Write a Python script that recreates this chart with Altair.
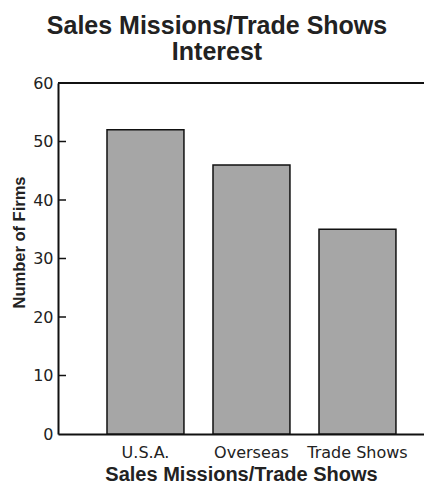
import altair as alt
import pandas as pd

categories = ["U.S.A.", "Overseas", "Trade Shows"]
values = [52, 46, 35]
tick_values = [10, 20, 30, 40, 50]
axis_values = [0, 10, 20, 30, 40, 50, 60]

df = pd.DataFrame({"cat": categories, "val": values})
ticks_df = pd.DataFrame({"t": tick_values})

yscale = alt.Scale(domain=[0, 60], nice=False, zero=True)

bars = alt.Chart(df).mark_bar(
    fill="#a6a6a6", stroke="#111111", strokeWidth=1.5
).encode(
    x=alt.X("cat:N", sort=categories,
            scale=alt.Scale(paddingInner=0.274, paddingOuter=0.3634, align=0.636),
            axis=alt.Axis(title="Sales Missions/Trade Shows", labelAngle=0,
                          ticks=False, domainColor="#111111", domainWidth=2,
                          labelFont="DejaVu Sans", labelFontSize=16, labelColor="#222222",
                          labelPadding=10,
                          titleFont="Liberation Sans", titleFontSize=20, titleFontWeight="bold",
                          titleColor="#222222", titleBaseline="alphabetic", titleY=46)),
    y=alt.Y("val:Q", scale=yscale,
            axis=alt.Axis(title="Number of Firms", values=axis_values, ticks=False,
                          grid=False, domainColor="#111111", domainWidth=2,
                          labelFont="DejaVu Sans", labelFontSize=16, labelColor="#222222",
                          labelPadding=5,
                          titleFont="Liberation Sans", titleFontSize=16.5, titleFontWeight="bold",
                          titleColor="#222222", titleAngle=-90, titleAlign="center",
                          titleBaseline="alphabetic", titleX=-34, titleY=159)),
)

inner_ticks = alt.Chart(ticks_df).mark_rule(color="#111111", strokeWidth=1.5).encode(
    y=alt.Y("t:Q", scale=yscale),
    x=alt.value(0),
    x2=alt.value(8),
)

top_line = alt.Chart(ticks_df).mark_rule(color="#111111", strokeWidth=2).encode(
    y=alt.datum(60, scale=yscale),
)

chart = alt.layer(bars, inner_ticks, top_line).properties(
    width=366,
    height=351,
    title=alt.TitleParams(
        text=["Sales Missions/Trade Shows", "Interest"],
        font="Liberation Sans", fontSize=25, fontWeight="bold", color="#222222",
        anchor="middle", dx=-24, offset=10, lineHeight=26,
    ),
    autosize=alt.AutoSizeParams(type="none"),
    padding={"left": 58, "top": 83, "right": 0, "bottom": 51},
).configure_view(stroke=None).configure(background="white")

chart.save("out.html", embed_options={"renderer": "svg", "actions": False})
